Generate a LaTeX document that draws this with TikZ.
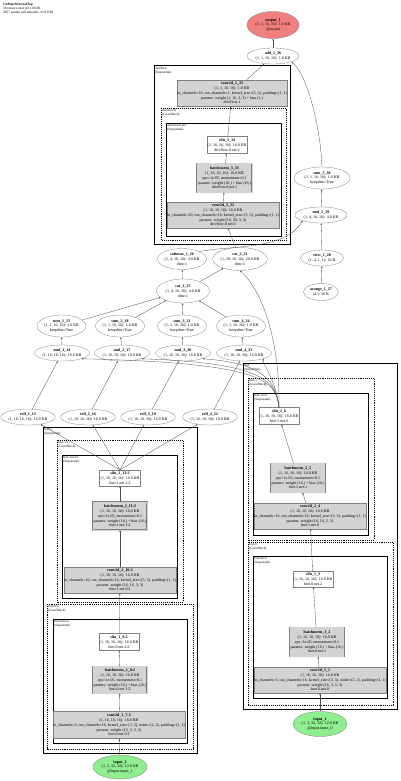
\documentclass[tikz,border=0pt]{standalone}
\usepackage{fontspec}
\setmainfont{Liberation Serif}
\usetikzlibrary{shapes.geometric,arrows.meta}
\definecolor{gfill}{HTML}{D3D3D3}
\definecolor{outfill}{HTML}{F08080}
\definecolor{infill}{HTML}{90EE90}
\definecolor{edgec}{HTML}{4A4A4A}
\tikzset{
  base/.style={font=\fontsize{4.0}{4.8}\selectfont, align=center, inner sep=0.3pt},
  sz/.style 2 args={minimum width=#1pt, minimum height=#2pt},
  ell/.style={base, ellipse, draw=gray, line width=0.3pt, fill=white, inner sep=0pt},
  wbox/.style={base, rectangle, draw=gray, line width=0.3pt, fill=white},
  gbox/.style={base, rectangle, draw=gray, line width=0.3pt, fill=gfill},
  bnbox/.style={base, rectangle, draw=gray, line width=0.3pt, fill=gfill, double=gfill, double distance=0.9pt},
  conn/.style={draw=edgec, line width=0.3pt, -{Stealth[length=2pt,width=1.6pt]}},
  grpA/.style={draw=black, line width=1pt},
  grpB/.style={draw=black, line width=0.9pt, densely dotted},
  grpC/.style={draw=black, line width=0.6pt},
  glab/.style={anchor=north west, font=\fontsize{3.3}{3.7}\selectfont, align=left, inner sep=0.6pt},
}
\begin{document}
\begin{tikzpicture}[x=1pt,y=-1pt]
\useasboundingbox (0,0) rectangle (400,781);
\fill[white] (0,0) rectangle (400,781);

% header
\node[anchor=north west, font=\fontsize{3.4}{3.8}\selectfont, align=left, inner sep=0pt] (hdr) at (3,3)
  {\textbf{UnMatchStereoFlop}\\38 tensors total (431.0 KB)\\5857 params (all trainable, 22.9 KB)};

% ---------- group boxes ----------
\draw[grpA] (154,66) rectangle (290,244);
\node[glab] (gd0) at (154.5,66.5) {dirvflow\\(Sequential)};
\draw[grpB] (161,108) rectangle (286,240);
\node[glab] (gd1) at (161.5,108.5) {dirvflow.0\\(ConvBlock)};
\draw[grpC] (166,123) rectangle (281,236);
\node[glab] (gd2) at (166.5,123.5) {dirvflow.0.net\\(Sequential)};

\draw[grpA] (43,427) rectangle (197,753);
\node[glab] (gl0) at (43.5,427.5) {fnet:2\\(Sequential)};
\draw[grpB] (57,440) rectangle (183,602);
\node[glab] (gl1) at (57.5,440.5) {fnet.1:2\\(ConvBlock)};
\draw[grpC] (62,455) rectangle (177,598);
\node[glab] (gl2) at (62.5,455.5) {fnet.1.net:2\\(Sequential)};
\draw[grpB] (47,604) rectangle (193,749);
\node[glab] (gl3) at (47.5,604.5) {fnet.0:2\\(ConvBlock)};
\draw[grpC] (53,619) rectangle (187,743);
\node[glab] (gl4) at (53.5,619.5) {fnet.0.net:2\\(Sequential)};

\draw[grpA] (243,363) rectangle (397,709);
\node[glab] (gr0) at (243.5,363.5) {fnet\\(Sequential)};
\draw[grpB] (248,378) rectangle (374,540);
\node[glab] (gr1) at (248.5,378.5) {fnet.1\\(ConvBlock)};
\draw[grpC] (253,393) rectangle (368,535);
\node[glab] (gr2) at (253.5,393.5) {fnet.1.net\\(Sequential)};
\draw[grpB] (248,542) rectangle (393,705);
\node[glab] (gr3) at (248.5,542.5) {fnet.0\\(ConvBlock)};
\draw[grpC] (253,556) rectangle (387,698);
\node[glab] (gr4) at (253.5,556.5) {fnet.0.net\\(Sequential)};

% ---------- nodes ----------
\node[ell, fill=outfill, sz={52}{27}] (out) at (273,25) {\textbf{output\_1}\\(1, 1, 16, 16): 1.0 KB\\@output};
\node[ell, sz={52}{16}] (add) at (273,56) {\textbf{add\_1\_36}\\(1, 1, 16, 16): 1.0 KB};

\node[gbox, sz={103}{26}] (c135) at (232,93) {\textbf{conv2d\_1\_35}\\(1, 1, 16, 16): 1.0 KB\\in\_channels=16, out\_channels=1, kernel\_size=(3, 3), padding=(1, 1)\\params: weight (1, 16, 3, 3) + bias (1,)\\dirvflow.1};
\node[wbox, sz={40}{17}] (s334) at (227,145) {\textbf{silu\_3\_34}\\(1, 16, 16, 16): 16.0 KB\\dirvflow.0.net.2};
\node[bnbox, sz={55}{29}] (b333) at (224.5,178) {\textbf{batchnorm\_3\_33}\\(1, 16, 16, 16): 16.0 KB\\eps=1e-05, momentum=0.1\\params: weight (16,) + bias (16,)\\dirvflow.0.net.1};
\node[gbox, sz={105}{26}] (c332) at (223,215) {\textbf{conv2d\_3\_32}\\(1, 16, 16, 16): 16.0 KB\\in\_channels=20, out\_channels=16, kernel\_size=(3, 3), padding=(1, 1)\\params: weight (16, 20, 3, 3)\\dirvflow.0.net.0};

\node[ell, sz={56}{22}] (sum5) at (322,178) {\textbf{sum\_5\_30}\\(1, 1, 16, 16): 1.0 KB\\keepdim=True};
\node[ell, sz={52}{16}] (mul5) at (321,215) {\textbf{mul\_5\_29}\\(1, 4, 16, 16): 4.0 KB};
\node[ell, sz={43}{16}] (view) at (322,258) {\textbf{view\_1\_28}\\(1, 4, 1, 1): 16 B};
\node[ell, sz={35}{17}] (arng) at (321,292) {\textbf{arange\_1\_27}\\(4,): 16 B};

\node[ell, sz={44}{21}] (smax) at (182,259) {\textbf{softmax\_1\_26}\\(1, 4, 16, 16): 4.0 KB\\dim=1};
\node[ell, sz={54}{23}] (cat2) at (240,259) {\textbf{cat\_2\_31}\\(1, 20, 16, 16): 20.0 KB\\dim=1};
\node[ell, sz={53}{24}] (cat1) at (183,291) {\textbf{cat\_1\_25}\\(1, 4, 16, 16): 4.0 KB\\dim=1};

\node[ell, sz={48}{22}] (sum1) at (61.5,326) {\textbf{sum\_1\_15}\\(1, 1, 16, 16): 1.0 KB\\keepdim=True};
\node[ell, sz={48}{22}] (sum2) at (120,326) {\textbf{sum\_2\_18}\\(1, 1, 16, 16): 1.0 KB\\keepdim=True};
\node[ell, sz={48}{22}] (sum3) at (182,326) {\textbf{sum\_3\_21}\\(1, 1, 16, 16): 1.0 KB\\keepdim=True};
\node[ell, sz={48}{22}] (sum4) at (241,326) {\textbf{sum\_4\_24}\\(1, 1, 16, 16): 1.0 KB\\keepdim=True};

\node[ell, sz={55}{16}] (mul1) at (62,353) {\textbf{mul\_1\_14}\\(1, 16, 16, 16): 16.0 KB};
\node[ell, sz={55}{16}] (mul2) at (122,353) {\textbf{mul\_2\_17}\\(1, 16, 16, 16): 16.0 KB};
\node[ell, sz={55}{16}] (mul3) at (183,353) {\textbf{mul\_3\_20}\\(1, 16, 16, 16): 16.0 KB};
\node[ell, sz={55}{16}] (mul4) at (244,353) {\textbf{mul\_4\_23}\\(1, 16, 16, 16): 16.0 KB};

\node[ell, sz={54}{16}] (roll1) at (28,417) {\textbf{roll\_1\_13}\\(1, 16, 16, 16): 16.0 KB};
\node[ell, sz={54}{16}] (roll2) at (88,417) {\textbf{roll\_2\_16}\\(1, 16, 16, 16): 16.0 KB};
\node[ell, sz={54}{16}] (roll3) at (148,417) {\textbf{roll\_3\_19}\\(1, 16, 16, 16): 16.0 KB};
\node[ell, sz={54}{16}] (roll4) at (210,417) {\textbf{roll\_4\_22}\\(1, 16, 16, 16): 16.0 KB};

% left branch
\node[wbox, sz={41}{16}] (s212) at (120,478) {\textbf{silu\_2\_12:2}\\(1, 16, 16, 16): 16.0 KB\\fnet.1.net.2:2};
\node[bnbox, sz={54}{28}] (b211) at (120,516) {\textbf{batchnorm\_2\_11:2}\\(1, 16, 16, 16): 16.0 KB\\eps=1e-05, momentum=0.1\\params: weight (16,) + bias (16,)\\fnet.1.net.1:2};
\node[gbox, sz={105}{26}] (c210) at (120,580) {\textbf{conv2d\_2\_10:2}\\(1, 16, 16, 16): 16.0 KB\\in\_channels=16, out\_channels=16, kernel\_size=(3, 3), padding=(1, 1)\\params: weight (16, 16, 3, 3)\\fnet.1.net.0:2};
\node[wbox, sz={40}{17}] (s19) at (119,642) {\textbf{silu\_1\_9:2}\\(1, 16, 16, 16): 16.0 KB\\fnet.0.net.2:2};
\node[bnbox, sz={54}{27}] (b18) at (120,680) {\textbf{batchnorm\_1\_8:2}\\(1, 16, 16, 16): 16.0 KB\\eps=1e-05, momentum=0.1\\params: weight (16,) + bias (16,)\\fnet.0.net.1:2};
\node[gbox, sz={122}{27}] (c17) at (119,725) {\textbf{conv2d\_1\_7:2}\\(1, 16, 16, 16): 16.0 KB\\in\_channels=3, out\_channels=16, kernel\_size=(3, 3), stride=(2, 2), padding=(1, 1)\\params: weight (16, 3, 3, 3)\\fnet.0.net.0:2};
\node[ell, fill=infill, sz={54}{24}] (inL) at (120,767) {\textbf{input\_2}\\(1, 3, 32, 32): 12.0 KB\\@input.input\_1};

% right branch
\node[wbox, sz={40}{17}] (s26) at (279,416) {\textbf{silu\_2\_6}\\(1, 16, 16, 16): 16.0 KB\\fnet.1.net.2};
\node[bnbox, sz={52}{29}] (b25) at (298,478) {\textbf{batchnorm\_2\_5}\\(1, 16, 16, 16): 16.0 KB\\eps=1e-05, momentum=0.1\\params: weight (16,) + bias (16,)\\fnet.1.net.1};
\node[gbox, sz={105}{26}] (c24) at (310,516) {\textbf{conv2d\_2\_4}\\(1, 16, 16, 16): 16.0 KB\\in\_channels=16, out\_channels=16, kernel\_size=(3, 3), padding=(1, 1)\\params: weight (16, 16, 3, 3)\\fnet.1.net.0};
\node[wbox, sz={40}{16}] (s13) at (313,579) {\textbf{silu\_1\_3}\\(1, 16, 16, 16): 16.0 KB\\fnet.0.net.2};
\node[bnbox, sz={53}{29}] (b12) at (317,642) {\textbf{batchnorm\_1\_2}\\(1, 16, 16, 16): 16.0 KB\\eps=1e-05, momentum=0.1\\params: weight (16,) + bias (16,)\\fnet.0.net.1};
\node[gbox, sz={123}{26}] (c11) at (320,680) {\textbf{conv2d\_1\_1}\\(1, 16, 16, 16): 16.0 KB\\in\_channels=3, out\_channels=16, kernel\_size=(3, 3), stride=(2, 2), padding=(1, 1)\\params: weight (16, 3, 3, 3)\\fnet.0.net.0};
\node[ell, fill=infill, sz={54}{25}] (inR) at (320,724) {\textbf{input\_1}\\(1, 3, 32, 32): 12.0 KB\\@input.input\_0};

% ---------- connectors ----------
\draw[conn] (add) -- (out);
\draw[conn] (c135) -- (add);
\draw[conn] (sum5.north) .. controls (320,120) and (305,72) .. (add.south east);
\draw[conn] (s334) -- (c135);
\draw[conn] (b333) -- (s334);
\draw[conn] (c332) -- (b333);
\draw[conn] (cat2) -- (c332);
\draw[conn] (mul5) -- (sum5);
\draw[conn] (view) -- (mul5);
\draw[conn] (arng) -- (view);
\draw[conn] (smax.north east) .. controls (235,245) and (285,250) .. (mul5.south west);
\draw[conn] (cat1) -- (smax);
\draw[conn] (cat1) -- (cat2);
\draw[conn] (s26.north) .. controls (280,340) and (262,290) .. (cat2.south);
\foreach \k in {1,2,3,4}{
  \draw[conn] (sum\k) -- (cat1);
  \draw[conn] (mul\k) -- (sum\k);
  \draw[conn] (roll\k) -- (mul\k);
  \draw[conn] (s212.north) -- (roll\k);
  \draw[conn] (s26.north) .. controls (276,380) and (262,363) .. (mul\k.south east);
}
% left branch
\draw[conn] (inL) -- (c17);
\draw[conn] (c17) -- (b18);
\draw[conn] (b18) -- (s19);
\draw[conn] (s19) -- (c210);
\draw[conn] (c210) -- (b211);
\draw[conn] (b211) -- (s212);
% right branch
\draw[conn] (inR) -- (c11);
\draw[conn] (c11) -- (b12);
\draw[conn] (b12) -- (s13);
\draw[conn] (s13) -- (c24);
\draw[conn] (c24) -- (b25);
\draw[conn] (b25) -- (s26);
\end{tikzpicture}
\end{document}
